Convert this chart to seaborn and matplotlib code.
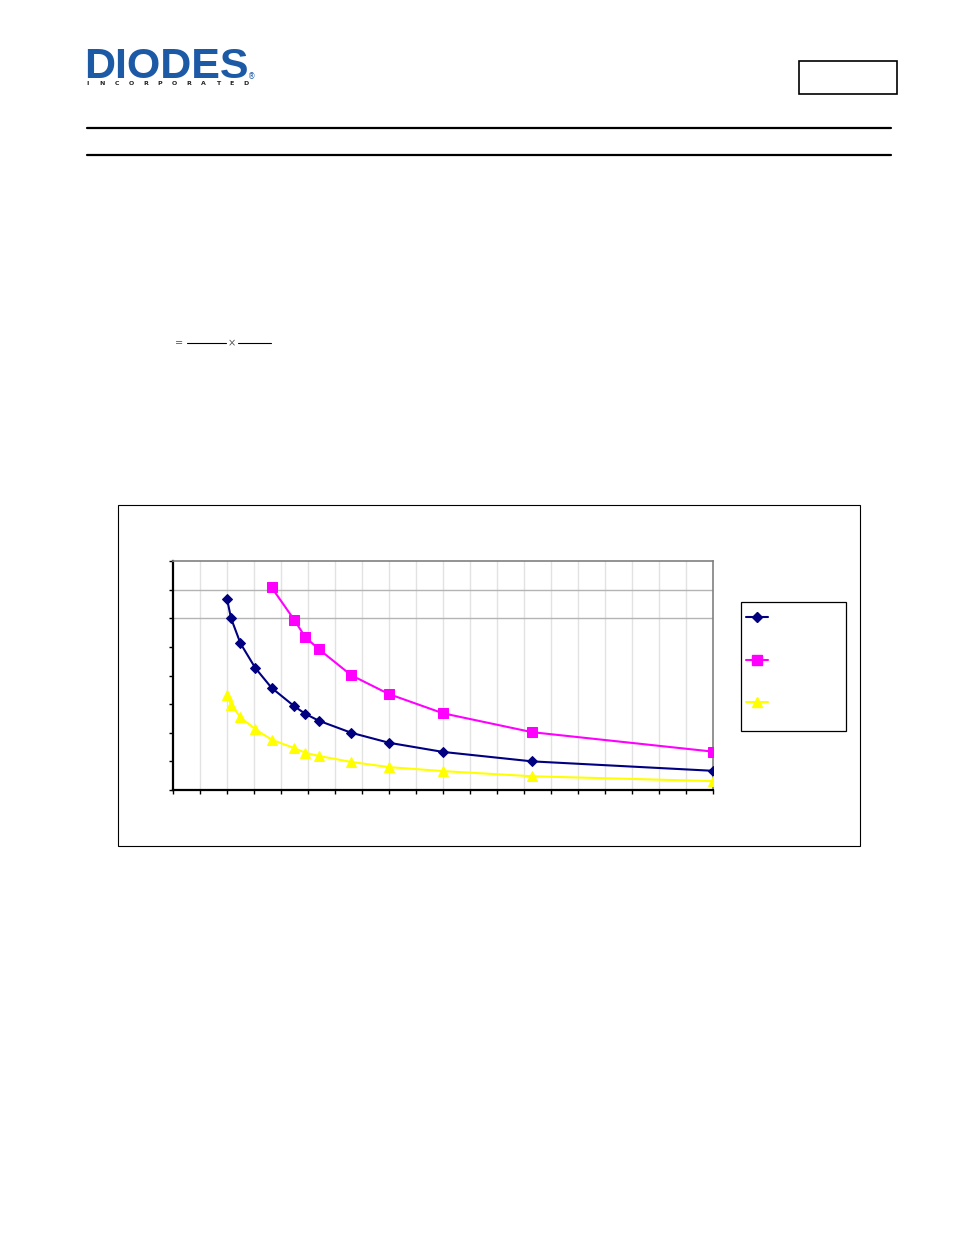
import matplotlib
matplotlib.use('Agg')
import matplotlib.pyplot as plt
from matplotlib.lines import Line2D
from matplotlib.patches import Rectangle
import seaborn as sns
import pandas as pd

# 数据
x_main = [20, 21.5, 25, 30.5, 36.5, 45, 49, 54, 66, 80, 100, 133, 200]
y_navy = [6.68, 6.00, 5.12, 4.26, 3.57, 2.92, 2.66, 2.42, 2.00, 1.65, 1.33, 1.00, 0.67]
y_yellow = [3.31, 2.98, 2.54, 2.12, 1.76, 1.46, 1.30, 1.19, 0.98, 0.80, 0.66, 0.48, 0.31]
x_magenta = [36.5, 45, 49, 54, 66, 80, 100, 133, 200]
y_magenta = [7.08, 5.93, 5.34, 4.92, 4.01, 3.35, 2.68, 2.02, 1.34]

x_ticks = list(range(0, 201, 10))
y_ticks = list(range(0, 9))
y_grid = [6, 7]

series = [
    ('navy', x_main, y_navy, '#000080', 'D', 5.5),
    ('magenta', x_magenta, y_magenta, '#ff00ff', 's', 6.5),
    ('yellow', x_main, y_yellow, '#ffff00', '^', 7),
]

W, H = 954, 1235


def fx(px):
    return px / W


def fy(py):
    return 1 - py / H


sns.set_style('white')
plt.rcParams['font.family'] = ['DejaVu Sans']

fig = plt.figure(figsize=(W / 100, H / 100), dpi=100)

# 页眉: logo
fig.text(fx(84), fy(78), 'DIODES', fontsize=31, fontweight='bold', color='#1c5aa6',
         family=['Liberation Sans'], va='baseline', ha='left')
fig.add_artist(Line2D([fx(86), fx(236)], [fy(61), fy(61)], color='white', lw=1.0))
for i, ch in enumerate('INCORPORATED'):
    fig.text(fx(88 + i * 14.4), fy(85), ch, fontsize=4.5, fontweight='bold',
             color='#222222', ha='center', va='baseline')
fig.text(fx(252), fy(79), '®', fontsize=5.5, color='#1c5aa6', ha='center', va='baseline')

# 右上角方框
fig.add_artist(Rectangle((fx(799), fy(94)), fx(897) - fx(799), fy(61) - fy(94),
                         fill=False, edgecolor='black', lw=1.2))

# 横线
for yy in (128, 155):
    fig.add_artist(Line2D([fx(87), fx(891)], [fy(yy), fy(yy)], color='black', lw=1.6))

# 公式
fig.text(fx(179), fy(343), '=', fontsize=7, color='#555555', ha='center', va='center')
fig.add_artist(Line2D([fx(187), fx(226)], [fy(343), fy(343)], color='black', lw=0.8))
fig.text(fx(231.5), fy(343), '×', fontsize=7, color='#555555', ha='center', va='center')
fig.add_artist(Line2D([fx(238), fx(271)], [fy(343), fy(343)], color='black', lw=0.8))

# 图表外框
fig.add_artist(Rectangle((fx(118), fy(846)), fx(860) - fx(118), fy(505) - fy(846),
                         fill=False, edgecolor='black', lw=0.8))

ax = fig.add_axes([fx(173), fy(790), fx(713) - fx(173), fy(561) - fy(790)])

for name, xs, ys, color, marker, ms in series:
    df = pd.DataFrame({'x': xs, 'y': ys})
    sns.lineplot(data=df, x='x', y='y', ax=ax, color=color, lw=1.5, marker=marker,
                 markersize=ms, markeredgecolor=color, zorder=3, legend=False)

ax.set_xlim(0, 200)
ax.set_ylim(0, 8)
ax.set_xticks(x_ticks)
ax.set_yticks(y_ticks)
ax.set_xticklabels([])
ax.set_yticklabels([])
ax.set_xlabel('')
ax.set_ylabel('')
ax.tick_params(axis='both', direction='out', length=3, width=1, color='black',
               bottom=True, left=True)
for xv in x_ticks[1:-1]:
    ax.axvline(xv, color='#e2e2e2', lw=1, zorder=1)
for yv in y_grid:
    ax.axhline(yv, color='#b4b4b4', lw=1, zorder=1)

ax.spines['left'].set_color('black')
ax.spines['left'].set_linewidth(1.6)
ax.spines['bottom'].set_color('black')
ax.spines['bottom'].set_linewidth(1.6)
for s in ('top', 'right'):
    ax.spines[s].set_color('#808080')
    ax.spines[s].set_linewidth(1.2)
    ax.spines[s].set_visible(True)

# 图例框
fig.add_artist(Rectangle((fx(741), fy(731)), fx(846) - fx(741), fy(602) - fy(731),
                         fill=False, edgecolor='black', lw=0.9))
for (name, xs, ys, color, marker, ms), ly in zip(series, (617, 660, 702)):
    fig.add_artist(Line2D([fx(746), fx(768)], [fy(ly), fy(ly)], color=color, lw=1.5))
    fig.add_artist(Line2D([fx(757)], [fy(ly)], color=color, lw=0, marker=marker,
                          markersize=ms, markeredgecolor=color))

fig.savefig('out.png', dpi=100)
